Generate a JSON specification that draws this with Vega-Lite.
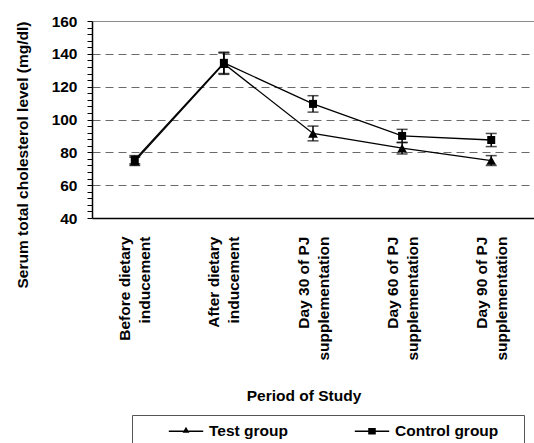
{
  "$schema": "https://vega.github.io/schema/vega-lite/v6.json",
  "width": 442,
  "height": 197,
  "autosize": {"type": "none"},
  "padding": {"left": 92, "top": 21, "right": 0, "bottom": 225},
  "background": "white",
  "config": {
    "font": "Liberation Sans",
    "view": {"stroke": null},
    "axis": {
      "labelFont": "Liberation Sans", "labelFontWeight": "bold", "labelFontSize": 15.5, "labelColor": "black",
      "titleFont": "Liberation Sans", "titleFontWeight": "bold", "titleFontSize": 15.5, "titleColor": "black"
    }
  },
  "data": {
    "values": [
      {"period": "Before dietary inducement", "group": "Test group", "v": 74.5, "e": 2.5},
      {"period": "After dietary inducement", "group": "Test group", "v": 134, "e": 6.5},
      {"period": "Day 30 of PJ supplementation", "group": "Test group", "v": 91.5, "e": 4.5},
      {"period": "Day 60 of PJ supplementation", "group": "Test group", "v": 82.5, "e": 3.5},
      {"period": "Day 90 of PJ supplementation", "group": "Test group", "v": 75, "e": 3},
      {"period": "Before dietary inducement", "group": "Control group", "v": 75.5, "e": 2.5},
      {"period": "After dietary inducement", "group": "Control group", "v": 134.5, "e": 6.5},
      {"period": "Day 30 of PJ supplementation", "group": "Control group", "v": 109.5, "e": 5},
      {"period": "Day 60 of PJ supplementation", "group": "Control group", "v": 90, "e": 4},
      {"period": "Day 90 of PJ supplementation", "group": "Control group", "v": 87.5, "e": 4}
    ]
  },
  "encoding": {
    "x": {
      "field": "period", "type": "nominal", "sort": null,
      "scale": {"type": "point", "padding": 0.48},
      "axis": {
        "labelAngle": 270, "labelAlign": "right", "labelBaseline": "middle",
        "labelPadding": 18, "labelLineHeight": 20, "labelOffset": -10, "labelOverlap": false, "labelLimit": 0,
        "labelExpr": "[slice(datum.label, 0, lastindexof(datum.label, ' ')), slice(datum.label, lastindexof(datum.label, ' ') + 1)]",
        "ticks": false, "domainColor": "black", "domainWidth": 1.5, "grid": false,
        "title": "Period of Study", "titleX": 211.5, "titleY": 182, "titleAlign": "center", "titleBaseline": "alphabetic"
      }
    },
    "y": {
      "field": "v", "type": "quantitative",
      "scale": {"domain": [40, 160], "nice": false, "zero": false},
      "axis": {
        "values": [40,44,48,52,56,60,64,68,72,76,80,84,88,92,96,100,104,108,112,116,120,124,128,132,136,140,144,148,152,156,160],
        "labelExpr": "datum.value % 20 == 0 ? datum.label : ''",
        "labelOverlap": false, "labelPadding": 10,
        "tickSize": 5, "tickColor": "black", "tickWidth": 1,
        "domainColor": "black", "domainWidth": 1.5,
        "grid": true, "gridWidth": 1,
        "gridColor": {"condition": {"test": "datum.value == 160", "value": "#8c8c8c"}, "value": "#6a6a6a"},
        "gridDash": {"condition": {"test": "datum.value == 160", "value": []}, "value": [8, 5]},
        "gridOpacity": {"condition": {"test": "datum.value % 20 == 0 && datum.value > 40", "value": 1}, "value": 0},
        "title": "Serum total cholesterol level (mg/dl)",
        "titleAngle": 270, "titleX": -65, "titleY": 133.5, "titleAlign": "center", "titleBaseline": "alphabetic"
      }
    }
  },
  "layer": [
    {
      "mark": {"type": "line", "color": "black", "strokeWidth": 1.3},
      "encoding": {"detail": {"field": "group"}}
    },
    {
      "mark": {"type": "errorbar", "color": "black", "ticks": {"size": 11, "thickness": 1.5}, "rule": {"strokeWidth": 1.5}},
      "encoding": {"yError": {"field": "e"}, "detail": {"field": "group"}}
    },
    {
      "mark": {"type": "point", "filled": true, "color": "black", "opacity": 1},
      "encoding": {
        "shape": {"field": "group", "type": "nominal", "scale": {"domain": ["Test group", "Control group"], "range": ["triangle-up", "square"]}, "legend": null},
        "size": {"field": "group", "type": "nominal", "scale": {"domain": ["Test group", "Control group"], "range": [95, 64]}, "legend": null}
      }
    },
    {
      "mark": {"type": "point", "filled": true, "color": "black", "opacity": 0},
      "encoding": {
        "shape": {
          "field": "group", "type": "nominal",
          "scale": {"domain": ["Test group", "Control group"], "range": ["M-1.91,-0.072H1.91V0.072H-1.91ZM0,-0.5L0.38,0.155H-0.38Z", "M-1.91,-0.072H1.91V0.072H-1.91ZM-0.42,-0.37H0.42V0.37H-0.42ZM16.1,0"]},
          "legend": {
            "orient": "none", "legendX": 40, "legendY": 394, "direction": "horizontal", "title": null,
            "padding": 7, "strokeColor": "#555555", "fillColor": "white",
            "symbolSize": 324, "symbolOffset": 38, "labelOffset": 14, "columnPadding": 37,
            "symbolFillColor": "black", "symbolStrokeColor": "black", "symbolStrokeWidth": 0, "symbolOpacity": 1,
            "labelFont": "Liberation Sans", "labelFontWeight": "bold", "labelFontSize": 15.5, "labelColor": "black"
          }
        }
      }
    }
  ],
  "resolve": {"scale": {"shape": "independent", "size": "independent"}}
}
